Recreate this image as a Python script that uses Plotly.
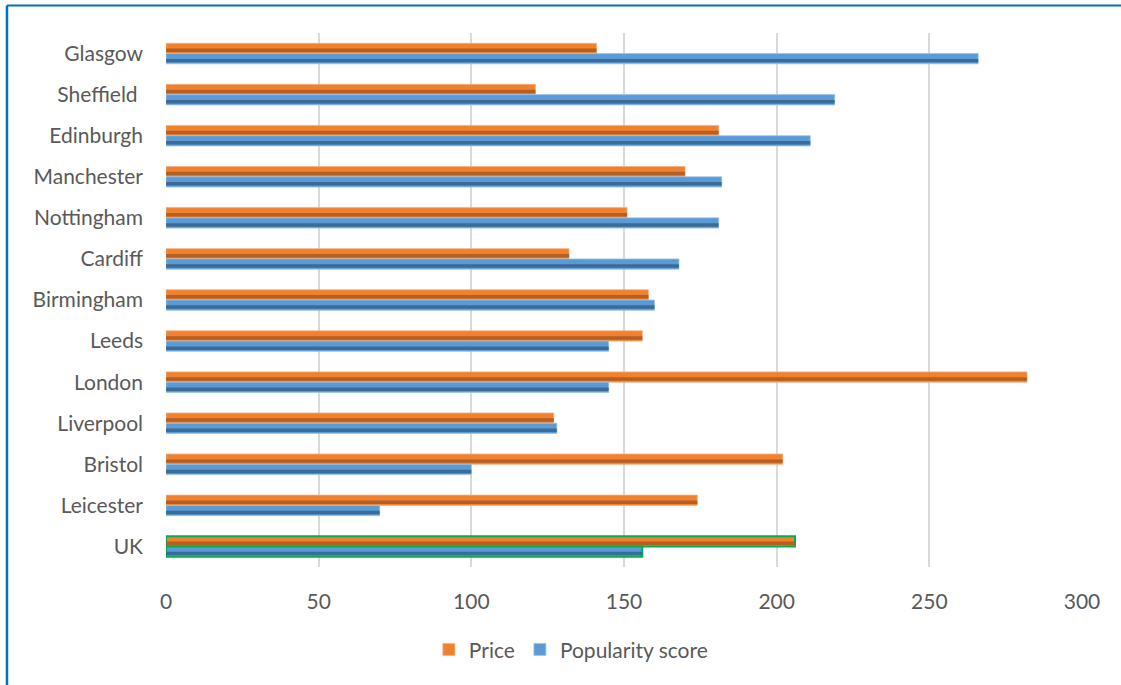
import plotly.graph_objects as go

cities = ["Glasgow", "Sheffield\u00a0", "Edinburgh", "Manchester", "Nottingham", "Cardiff",
          "Birmingham", "Leeds", "London", "Liverpool", "Bristol", "Leicester", "UK"]
price = [141, 121, 181, 170, 151, 132, 158, 156, 282, 127, 202, 174, 206]
popularity = [266, 219, 211, 182, 181, 168, 160, 145, 145, 128, 100, 70, 156]
x_ticks = [0, 50, 100, 150, 200, 250, 300]

ORANGE = "#F0812F"
ORANGE_DARK = "#A8561E"
BLUE = "#5B9BD5"
BLUE_DARK = "#325F8A"
GREEN = "#00B050"

line_cols_o = [GREEN if c == "UK" else "#F4B183" for c in cities]
line_cols_b = [GREEN if c == "UK" else "#9DC3E6" for c in cities]
line_w = [2 if c == "UK" else 0.8 for c in cities]

W = 0.25
fig = go.Figure()
# main bars
fig.add_trace(go.Bar(y=cities, x=price, orientation="h", name="Price",
                     marker=dict(color=ORANGE, line=dict(color=line_cols_o, width=line_w)),
                     offset=-W, width=W))
fig.add_trace(go.Bar(y=cities, x=popularity, orientation="h", name="Popularity score",
                     marker=dict(color=BLUE, line=dict(color=line_cols_b, width=line_w)),
                     offset=0, width=W))
# bevel shading stripes
fig.add_trace(go.Bar(y=cities, x=price, orientation="h", showlegend=False, hoverinfo="skip",
                     marker=dict(color=ORANGE_DARK, opacity=0.8, line=dict(width=0)),
                     offset=-W + 0.13, width=0.085))
fig.add_trace(go.Bar(y=cities, x=popularity, orientation="h", showlegend=False, hoverinfo="skip",
                     marker=dict(color=BLUE_DARK, opacity=0.8, line=dict(width=0)),
                     offset=0.13, width=0.085))

fig.update_layout(
    barmode="overlay",
    width=1121, height=685,
    margin=dict(l=166, r=39, t=33, b=118),
    paper_bgcolor="white", plot_bgcolor="white",
    font=dict(family="Lato, Carlito, Calibri, sans-serif", size=21, color="#595959"),
    xaxis=dict(range=[0, 300], tickvals=x_ticks, showgrid=True, gridcolor="#D9D9D9",
               gridwidth=1.5, zeroline=False, showline=False, ticklabelstandoff=20,
               tickfont=dict(size=21, color="#595959")),
    yaxis=dict(autorange="reversed", showgrid=False, showline=False, zeroline=False,
               ticklabelstandoff=22, tickfont=dict(size=21, color="#595959")),
    legend=dict(orientation="h", x=0.442, xanchor="center", y=-0.155, yanchor="middle",
                font=dict(size=21, color="#595959"), traceorder="normal",
                itemwidth=30),
    shapes=[
        dict(type="line", xref="paper", yref="paper", x0=-0.1736, x1=1.05, y0=1.0515, y1=1.0515,
             line=dict(color="#0070C0", width=2)),
        dict(type="line", xref="paper", yref="paper", x0=-0.1736, x1=-0.1736, y0=1.0515, y1=-0.23,
             line=dict(color="#0070C0", width=2.5)),
    ],
)

fig.write_html("out.html")
